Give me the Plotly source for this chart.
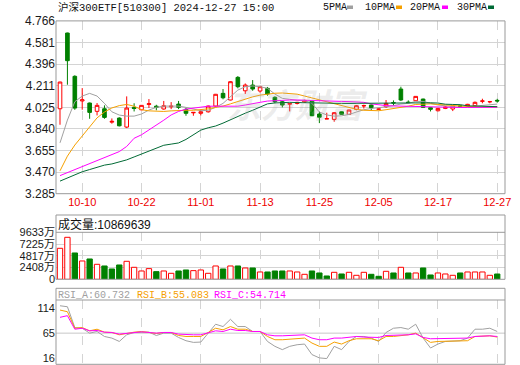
import plotly.graph_objects as go

# ---------------- data ----------------
dates = [
    "2024-09-30",
    "2024-10-08", "2024-10-09", "2024-10-10", "2024-10-11", "2024-10-14", "2024-10-15",
    "2024-10-16", "2024-10-17", "2024-10-18", "2024-10-21", "2024-10-22", "2024-10-23",
    "2024-10-24", "2024-10-25", "2024-10-28", "2024-10-29", "2024-10-30", "2024-10-31",
    "2024-11-01", "2024-11-04", "2024-11-05", "2024-11-06", "2024-11-07", "2024-11-08",
    "2024-11-11", "2024-11-12", "2024-11-13", "2024-11-14", "2024-11-15", "2024-11-18",
    "2024-11-19", "2024-11-20", "2024-11-21", "2024-11-22", "2024-11-25", "2024-11-26",
    "2024-11-27", "2024-11-28", "2024-11-29", "2024-12-02", "2024-12-03", "2024-12-04",
    "2024-12-05", "2024-12-06", "2024-12-09", "2024-12-10", "2024-12-11", "2024-12-12",
    "2024-12-13", "2024-12-16", "2024-12-17", "2024-12-18", "2024-12-19", "2024-12-20",
    "2024-12-23", "2024-12-24", "2024-12-25", "2024-12-26", "2024-12-27",
]
tick_dates = ["2024-10-10", "2024-10-22", "2024-11-01", "2024-11-13",
              "2024-11-25", "2024-12-05", "2024-12-17", "2024-12-27"]

opens = [4.013, 4.662, 4.291, 4.080, 4.062, 3.991, 4.013, 3.898, 3.933, 3.856,
         4.025, 4.004, 4.050, 4.035, 4.011, 4.030, 4.053, 4.008, 3.978, 3.974,
         3.987, 4.036, 4.145, 4.088, 4.282, 4.167, 4.216, 4.165, 4.188, 4.111,
         4.073, 4.052, 4.058, 4.070, 4.079, 3.968, 3.925, 3.922, 3.987, 3.965,
         4.008, 4.037, 4.045, 4.009, 4.030, 4.066, 4.182, 4.070, 4.082, 4.096,
         4.022, 3.996, 4.016, 4.011, 4.038, 4.036, 4.039, 4.077, 4.072, 4.085]
highs = [4.245, 4.665, 4.300, 4.190, 4.066, 4.062, 4.042, 3.930, 3.940, 4.119,
         4.060, 4.045, 4.096, 4.047, 4.080, 4.070, 4.080, 4.022, 3.985, 4.008,
         4.040, 4.140, 4.182, 4.250, 4.293, 4.230, 4.259, 4.210, 4.200, 4.120,
         4.080, 4.062, 4.072, 4.090, 4.085, 3.987, 3.979, 3.985, 3.990, 4.005,
         4.045, 4.048, 4.050, 4.015, 4.088, 4.085, 4.202, 4.085, 4.120, 4.100,
         4.025, 4.020, 4.035, 4.038, 4.045, 4.055, 4.075, 4.099, 4.080, 4.098]
lows = [3.876, 4.219, 4.004, 4.005, 3.927, 3.956, 3.927, 3.885, 3.862, 3.847,
        3.990, 4.000, 4.020, 4.000, 4.005, 4.010, 4.010, 3.953, 3.953, 3.956,
        3.980, 4.030, 4.094, 4.085, 4.188, 4.140, 4.167, 4.150, 4.125, 4.060,
        4.025, 3.990, 4.050, 4.065, 3.950, 3.890, 3.925, 3.902, 3.960, 3.960,
        4.000, 4.015, 4.000, 4.000, 4.020, 4.040, 4.080, 4.060, 4.080, 4.020,
        3.990, 3.990, 4.010, 3.993, 4.025, 4.030, 4.035, 4.060, 4.060, 4.065]
closes = [4.242, 4.425, 4.019, 4.090, 3.982, 4.042, 3.939, 3.905, 3.867, 4.019,
          4.015, 4.042, 4.056, 4.025, 4.039, 4.035, 4.025, 3.974, 3.982, 3.987,
          4.036, 4.137, 4.107, 4.245, 4.202, 4.216, 4.182, 4.202, 4.139, 4.073,
          4.045, 4.058, 4.068, 4.085, 3.953, 3.940, 3.928, 3.979, 3.965, 4.002,
          4.039, 4.040, 4.022, 4.011, 4.059, 4.062, 4.088, 4.066, 4.119, 4.025,
          4.008, 4.016, 4.028, 4.036, 4.033, 4.051, 4.068, 4.080, 4.074, 4.080]

ma5 = [3.721, 3.916, 4.073, 4.122, 4.145, 4.122, 4.059, 3.987, 3.959, 3.950,
       3.950, 3.968, 4.002, 4.025, 4.036, 4.038, 4.036, 4.025, 4.008, 3.996,
       4.000, 4.025, 4.059, 4.116, 4.173, 4.202, 4.208, 4.202, 4.188, 4.139,
       4.102, 4.094, 4.085, 4.085, 4.060, 3.985, 3.960, 3.950, 3.952, 3.965,
       3.985, 4.005, 4.015, 4.020, 4.030, 4.040, 4.053, 4.059, 4.076, 4.076,
       4.059, 4.045, 4.038, 4.030, 4.025, 4.030, 4.036, 4.040, 4.045, 4.053]
ma10 = [3.481, 3.607, 3.702, 3.780, 3.860, 3.935, 3.985, 4.020, 4.040, 4.050,
        4.035, 4.005, 3.995, 3.990, 3.990, 3.995, 4.000, 4.000, 4.000, 4.005,
        4.012, 4.025, 4.036, 4.055, 4.075, 4.098, 4.115, 4.130, 4.140, 4.146,
        4.148, 4.146, 4.138, 4.122, 4.105, 4.090, 4.075, 4.058, 4.040, 4.022,
        4.008, 4.000, 3.997, 3.996, 4.005, 4.015, 4.023, 4.035, 4.050, 4.055,
        4.055, 4.050, 4.045, 4.038, 4.032, 4.030, 4.028, 4.027, 4.027, 4.028]
ma20 = [3.440, 3.465, 3.490, 3.516, 3.541, 3.567, 3.593, 3.620, 3.646, 3.690,
        3.760, 3.790, 3.830, 3.875, 3.915, 3.960, 3.990, 4.010, 4.020, 4.030,
        4.035, 4.035, 4.035, 4.033, 4.035, 4.045, 4.059, 4.068, 4.079, 4.083,
        4.087, 4.088, 4.088, 4.087, 4.085, 4.083, 4.080, 4.078, 4.076, 4.074,
        4.072, 4.068, 4.055, 4.045, 4.040, 4.037, 4.035, 4.033, 4.031, 4.030,
        4.028, 4.026, 4.025, 4.024, 4.024, 4.024, 4.025, 4.025, 4.025, 4.026]
ma30 = [3.393, 3.420, 3.447, 3.473, 3.492, 3.511, 3.530, 3.540, 3.555, 3.575,
        3.600, 3.625, 3.650, 3.675, 3.700, 3.710, 3.720, 3.750, 3.790, 3.830,
        3.850, 3.865, 3.890, 3.920, 3.945, 3.975, 4.000, 4.030, 4.055, 4.063,
        4.068, 4.068, 4.066, 4.064, 4.062, 4.061, 4.060, 4.059, 4.059, 4.059,
        4.060, 4.060, 4.060, 4.060, 4.060, 4.060, 4.060, 4.062, 4.064, 4.064,
        4.064, 4.062, 4.052, 4.050, 4.048, 4.038, 4.036, 4.035, 4.033, 4.031]

volumes = [6352, 8606, 5396, 3757, 4167, 3074, 2732, 2117, 2937, 3689,
           2459, 1708, 2186, 1571, 1708, 1229, 1708, 1912, 1776, 1912,
           1229, 2732, 2117, 2732, 2732, 2322, 2322, 1500, 1503, 1708,
           1708, 1708, 1503, 1025, 1708, 1298, 683, 1434, 1093, 1434,
           820, 1434, 1025, 615, 1639, 1298, 2459, 1298, 1298, 2322,
           888, 1298, 1093, 820, 1298, 1503, 1503, 1503, 820, 1087]
vol_up = [1, 1, 0, 1, 0, 1, 0, 0, 0, 1,
          1, 1, 1, 0, 1, 1, 0, 0, 1, 1,
          1, 1, 0, 1, 0, 1, 0, 1, 0, 0,
          0, 1, 1, 1, 0, 0, 0, 1, 0, 1,
          1, 1, 0, 0, 1, 0, 1, 0, 1, 0,
          0, 1, 1, 1, 0, 1, 1, 1, 1, 0]

rsi_a = [117.8, 115.9, 75.8, 74.5, 65.0, 68.2, 58.6, 55.5, 49.0, 61.8,
         66.3, 66.3, 67.0, 60.5, 65.0, 65.0, 56.7, 50.4, 47.2, 47.8,
         65.0, 82.2, 77.7, 91.7, 77.7, 77.7, 68.2, 68.2, 49.0, 39.6,
         33.2, 39.6, 42.7, 44.0, 23.7, 17.3, 16.0, 39.6, 33.2, 49.0,
         58.6, 58.6, 55.5, 49.0, 66.3, 74.5, 75.8, 72.6, 82.2, 55.5,
         36.4, 44.0, 49.0, 49.0, 50.4, 55.5, 72.6, 72.6, 74.5, 68.2]
rsi_b = [109.5, 106.3, 74.5, 75.8, 69.5, 72.6, 66.9, 66.3, 61.8, 65.0,
         66.9, 68.2, 67.0, 64.4, 66.3, 66.3, 60.5, 58.6, 58.6, 58.6,
         66.3, 74.5, 71.4, 77.7, 72.6, 72.6, 68.2, 68.2, 58.6, 52.3,
         52.3, 53.6, 55.5, 55.5, 45.9, 39.6, 39.6, 47.8, 44.0, 50.4,
         54.2, 54.2, 54.2, 50.4, 58.6, 58.6, 59.9, 61.8, 65.0, 55.5,
         47.2, 49.0, 49.0, 50.4, 49.0, 50.4, 58.6, 59.9, 59.9, 57.4]
rsi_c = [95.5, 98.7, 72.6, 74.5, 69.5, 70.1, 66.9, 66.3, 63.1, 65.0,
         66.3, 67.5, 66.3, 65.0, 66.3, 66.3, 63.1, 61.8, 61.8, 61.8,
         65.6, 69.5, 68.2, 72.6, 70.1, 70.1, 68.2, 68.2, 61.8, 59.9,
         59.9, 60.5, 61.8, 61.8, 55.5, 52.3, 52.3, 55.5, 55.5, 56.7,
         58.6, 57.4, 56.7, 56.7, 60.5, 60.5, 61.8, 61.8, 63.7, 56.7,
         54.2, 54.2, 54.2, 55.5, 54.2, 55.5, 58.6, 59.9, 59.9, 58.6]

price_ticks = [3.285, 3.470, 3.655, 3.840, 4.025, 4.211, 4.396, 4.581, 4.766]
vol_ticks = [0, 2408, 4817, 7225, 9633]
rsi_ticks = [16, 65, 114]

title_text = "沪深300ETF[510300] 2024-12-27 15:00"
vol_title = "成交量:10869639"
rsi_labels = ["RSI_A:60.732", "RSI_B:55.083", "RSI_C:54.714"]
ma_names = ["5PMA", "10PMA", "20PMA", "30PMA"]

# ---------------- style ----------------
W, H = 520, 365
RED = "#ff0000"
GREEN = "#008000"
MA_COLORS = ["#a0a0a0", "#f5a000", "#ff00ff", "#006a35"]
GRID = "#d4d4d4"
FRAME = "#999999"
TXT = "#1a1a1a"
SANS = "Liberation Sans, Arial, Noto Sans CJK SC"
MONO = "Liberation Mono, Noto Sans CJK SC"


def px(x):
    return x / W


def py(y):
    return 1 - y / H


X0, X1 = 56, 505
MAIN_T, MAIN_B = 20.9, 193.7
VOL_BOX_T, VOL_T, VOL_B = 215, 232.3, 279.3
RSI_BOX_T, RSI_T, RSI_B = 288.3, 300, 364.3

fig = go.Figure()

# moving averages
for vals, name, col in zip([ma5, ma10, ma20, ma30], ma_names, MA_COLORS):
    fig.add_trace(go.Scatter(x=dates, y=vals, mode="lines", name=name,
                             line=dict(color=col, width=1),
                             xaxis="x", yaxis="y", showlegend=False,
                             hoverinfo="skip"))

fig.add_trace(go.Candlestick(
    x=dates, open=opens, high=highs, low=lows, close=closes,
    xaxis="x", yaxis="y", whiskerwidth=0,
    increasing=dict(line=dict(color=RED, width=1), fillcolor="white"),
    decreasing=dict(line=dict(color=GREEN, width=1), fillcolor=GREEN),
    showlegend=False, hoverinfo="skip"))

bar_fill = ["white" if u else GREEN for u in vol_up]
bar_line = [RED if u else GREEN for u in vol_up]
fig.add_trace(go.Bar(x=dates, y=volumes, xaxis="x2", yaxis="y2",
                     marker=dict(color=bar_fill, line=dict(color=bar_line, width=1)),
                     showlegend=False, hoverinfo="skip"))

for vals, col in zip([rsi_a, rsi_b, rsi_c], [MA_COLORS[0], MA_COLORS[1], MA_COLORS[2]]):
    fig.add_trace(go.Scatter(x=dates, y=vals, mode="lines",
                             line=dict(color=col, width=1),
                             xaxis="x3", yaxis="y3", showlegend=False,
                             hoverinfo="skip"))

xr = [-0.54, len(dates) - 1 + 1.05]
xcommon = dict(type="category", domain=[px(X0), px(X1)], range=xr,
               tickvals=tick_dates, showgrid=True, gridcolor=GRID,
               griddash="dash", gridwidth=1, zeroline=False, showline=False,
               ticks="", fixedrange=True, automargin=False)

fig.update_layout(
    width=W, height=H, autosize=False,
    margin=dict(l=0, r=0, t=0, b=0, pad=0),
    paper_bgcolor="white", plot_bgcolor="white",
    showlegend=False, hovermode=False, bargap=0.28,
    xaxis=dict(**xcommon, anchor="y", ticktext=[d[5:] for d in tick_dates],
               tickfont=dict(family=SANS, size=11, color="#ee0000"),
               rangeslider=dict(visible=False)),
    xaxis2=dict(**xcommon, anchor="y2", matches="x", showticklabels=False),
    xaxis3=dict(**xcommon, anchor="y3", matches="x", showticklabels=False),
    yaxis=dict(domain=[py(MAIN_B), py(MAIN_T)], range=[price_ticks[0], price_ticks[-1]],
               tickvals=price_ticks, ticktext=["%.3f" % v for v in price_ticks],
               tickfont=dict(family=SANS, size=12, color=TXT),
               showgrid=True, gridcolor=GRID, zeroline=False, ticks="",
               anchor="x", fixedrange=True, automargin=False),
    yaxis2=dict(domain=[py(VOL_B), py(VOL_T)], range=[vol_ticks[0], vol_ticks[-1]],
                tickvals=vol_ticks,
                ticktext=[str(v) + "万" if v else "0" for v in vol_ticks],
                tickfont=dict(family=SANS, size=11, color=TXT),
                showgrid=True, gridcolor=GRID, zeroline=False, ticks="",
                anchor="x2", fixedrange=True, automargin=False),
    yaxis3=dict(domain=[py(RSI_B), py(RSI_T)], range=[4.96, 128.9],
                tickvals=rsi_ticks, ticktext=[str(v) for v in rsi_ticks],
                tickfont=dict(family=SANS, size=11, color=TXT),
                showgrid=False, zeroline=False, ticks="",
                anchor="x3", fixedrange=True, automargin=False),
)

shapes = []
# RSI 65 reference line
shapes.append(dict(type="line", xref="paper", yref="y3", x0=px(X0), x1=px(X1),
                   y0=65, y1=65, line=dict(color="#c8c8c8", width=1), layer="below"))
# frames
for t, b in [(MAIN_T, MAIN_B), (VOL_BOX_T, VOL_B), (RSI_BOX_T, RSI_B)]:
    shapes.append(dict(type="rect", xref="paper", yref="paper",
                       x0=px(X0), x1=px(X1), y0=py(b), y1=py(t),
                       line=dict(color=FRAME, width=1), fillcolor="rgba(0,0,0,0)",
                       layer="above"))
for yy in [VOL_T, RSI_T]:
    shapes.append(dict(type="line", xref="paper", yref="paper",
                       x0=px(X0), x1=px(X1), y0=py(yy), y1=py(yy),
                       line=dict(color=FRAME, width=1), layer="above"))

# legend colour marks
legend_x = [321, 363, 408, 455]
mark_x = [347, 396, 442, 488]
for mx, col in zip(mark_x, MA_COLORS):
    shapes.append(dict(type="rect", xref="paper", yref="paper",
                       x0=px(mx), x1=px(mx + 6), y0=py(9), y1=py(5.5),
                       line=dict(width=0), fillcolor=col))
fig.update_layout(shapes=shapes)

ann = []
ann.append(dict(text=title_text, x=px(56), y=py(7), xref="paper", yref="paper",
                xanchor="left", yanchor="middle", showarrow=False,
                font=dict(family=MONO, size=10.5, color="#111")))
for lx, name in zip(legend_x, ma_names):
    ann.append(dict(text=name, x=px(lx), y=py(7), xref="paper", yref="paper",
                    xanchor="left", yanchor="middle", showarrow=False,
                    font=dict(family=MONO, size=10, color="#111")))
ann.append(dict(text=vol_title, x=px(56), y=py(224), xref="paper", yref="paper",
                xanchor="left", yanchor="middle", showarrow=False,
                font=dict(family=SANS, size=12, color="#111")))
for lx, lab, col in zip([56, 135, 212], rsi_labels, MA_COLORS[:3]):
    ann.append(dict(text=lab, x=px(lx), y=py(295), xref="paper", yref="paper",
                    xanchor="left", yanchor="middle", showarrow=False,
                    font=dict(family=MONO, size=10, color=col)))
# watermark
ann.append(dict(text="<i><b>东方财富</b></i>", x=px(297), y=py(104), xref="paper", yref="paper",
                xanchor="center", yanchor="middle", showarrow=False,
                font=dict(family="Noto Sans CJK SC", size=34, color="rgba(170,170,170,0.22)")))
fig.update_layout(annotations=ann)

fig.write_html(
    "out.html",
    config={"displayModeBar": False, "staticPlot": True},
    post_script="document.body.style.margin='0';document.body.style.padding='0';"
                "document.body.style.overflow='hidden';",
)
